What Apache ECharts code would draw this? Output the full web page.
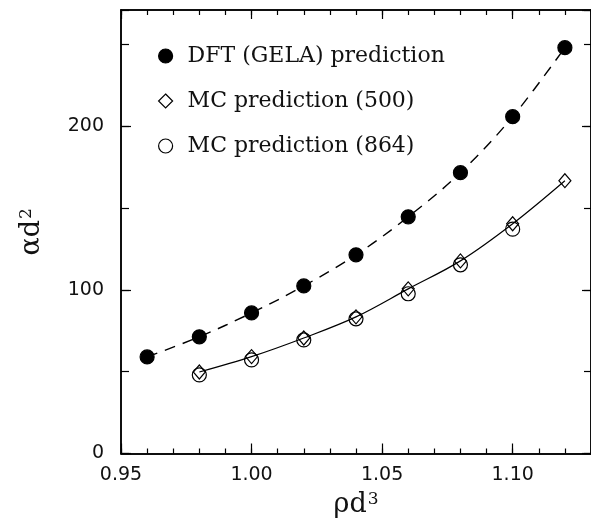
<!DOCTYPE html>
<html>
<head>
<meta charset="utf-8">
<script src="https://cdn.jsdelivr.net/npm/echarts@6/dist/echarts.min.js"></script>
<style>html,body{margin:0;padding:0;background:#fff}#c{width:591px;height:531px}</style>
</head>
<body>
<div id="c"></div>
<script>
const rhoDFT = [0.96, 0.98, 1.00, 1.02, 1.04, 1.06, 1.08, 1.10, 1.12];
const dftVals = [59.0, 71.3, 85.9, 102.4, 121.4, 144.6, 171.6, 205.8, 248.0];
const rhoMC500 = [0.98, 1.00, 1.02, 1.04, 1.06, 1.08, 1.10, 1.12];
const mc500Vals = [49.8, 59.2, 70.6, 83.5, 100.6, 117.7, 140.4, 166.7];
const rhoMC864 = [0.98, 1.00, 1.02, 1.04, 1.06, 1.08, 1.10];
const mc864Vals = [48.0, 57.2, 69.4, 82.3, 97.6, 115.3, 137.1];
const seriesNames = ['DFT (GELA) prediction', 'MC prediction (500)', 'MC prediction (864)'];
const xTickLabels = ['0.95', '1.00', '1.05', '1.10'];
const yTickLabels = ['0', '100', '200'];

const pairs = (xs, ys) => xs.map((x, i) => [x, ys[i]]);
const labelFont = {fontFamily: 'DejaVu Sans', fontSize: 19, color: '#111'};
const black = '#000';
const nameRich = {a: {fontFamily: 'DejaVu Serif', fontSize: 27, color: '#111'},
                  s: {fontFamily: 'DejaVu Serif', fontSize: 17, color: '#111', verticalAlign: 'top', padding: [0,0,0,1]}};

function xAx(pos, interval, len, labels) {
  return {
    type: 'value', position: pos, min: 0.95, max: 1.13, interval: interval,
    axisLine: {show: true, onZero: false, lineStyle: {color: black, width: 1.5}},
    axisTick: {show: true, inside: true, length: len, lineStyle: {color: black, width: 1.2}},
    splitLine: {show: false},
    axisLabel: labels ? Object.assign({show: true, margin: 12, showMaxLabel: false,
      formatter: v => { const s = v.toFixed(2); return xTickLabels.indexOf(s) >= 0 ? s : ''; }}, labelFont) : {show: false},
    name: (labels ? '{a|ρd}{s|3}' : ''), nameLocation: 'middle', nameGap: 38,
    nameTextStyle: {rich: nameRich}
  };
}
function yAx(pos, interval, len, labels) {
  return {
    type: 'value', position: pos, min: 0, max: 271, interval: interval,
    axisLine: {show: true, onZero: false, lineStyle: {color: black, width: 1.5}},
    axisTick: {show: true, inside: true, length: len, lineStyle: {color: black, width: 1.2}},
    splitLine: {show: false},
    axisLabel: labels ? Object.assign({show: true, margin: 17, showMaxLabel: false,
      formatter: v => { const s = String(Math.round(v)); return yTickLabels.indexOf(s) >= 0 && v % 100 === 0 ? s : ''; }}, labelFont) : {show: false},
    name: (labels ? '{a|αd}{s|2}' : ''), nameLocation: 'middle', nameGap: 76,
    nameTextStyle: {rich: nameRich}
  };
}

const chart = echarts.init(document.getElementById('c'), null, {renderer: 'canvas'});
chart.setOption({
  backgroundColor: '#fff',
  animation: false,
  grid: {left: 121, top: 10, right: -5, bottom: 77.5, containLabel: false},
  xAxis: [xAx('bottom', 0.05, 10, true), xAx('bottom', 0.01, 5, false),
          xAx('top', 0.05, 9, false), xAx('top', 0.01, 5, false)],
  yAxis: [yAx('left', 100, 10, true), yAx('left', 50, 8, false),
          yAx('right', 100, 9, false), yAx('right', 50, 7, false)],
  legend: {
    data: seriesNames, orient: 'vertical', left: 158, top: 45,
    itemWidth: 14, itemHeight: 14, itemGap: 23, padding: 0,
    selectedMode: false, symbolKeepAspect: true,
    itemStyle: {borderWidth: 1.2, borderColor: black},
    textStyle: {fontFamily: 'DejaVu Serif', fontSize: 22, color: '#111', padding: [0, 0, 0, 10]}
  },
  series: [
    {type: 'line', name: 'dftCurve', data: pairs(rhoDFT, dftVals), smooth: 0.35, showSymbol: false, symbol: 'none',
     lineStyle: {color: black, width: 1.4, type: [11, 8]}, z: 2, silent: true},
    {type: 'line', name: 'mcCurve', data: pairs(rhoMC500, mc500Vals), smooth: 0.35, showSymbol: false, symbol: 'none',
     lineStyle: {color: black, width: 1.2}, z: 2, silent: true},
    {type: 'scatter', name: seriesNames[0], data: pairs(rhoDFT, dftVals), symbol: 'circle', symbolSize: 14,
     itemStyle: {color: black, borderColor: black, borderWidth: 1.2, opacity: 1}, z: 5},
    {type: 'scatter', name: seriesNames[2], data: pairs(rhoMC864, mc864Vals), symbol: 'circle', symbolSize: 14,
     itemStyle: {color: 'rgba(255,255,255,0)', borderColor: black, borderWidth: 1.2, opacity: 1}, z: 5},
    {type: 'scatter', name: seriesNames[1], data: pairs(rhoMC500, mc500Vals), symbol: 'diamond', symbolSize: [12, 14],
     symbolKeepAspect: true,
     itemStyle: {color: 'rgba(255,255,255,0)', borderColor: black, borderWidth: 1.2, opacity: 1}, z: 6}
  ]
});
</script>
</body>
</html>
